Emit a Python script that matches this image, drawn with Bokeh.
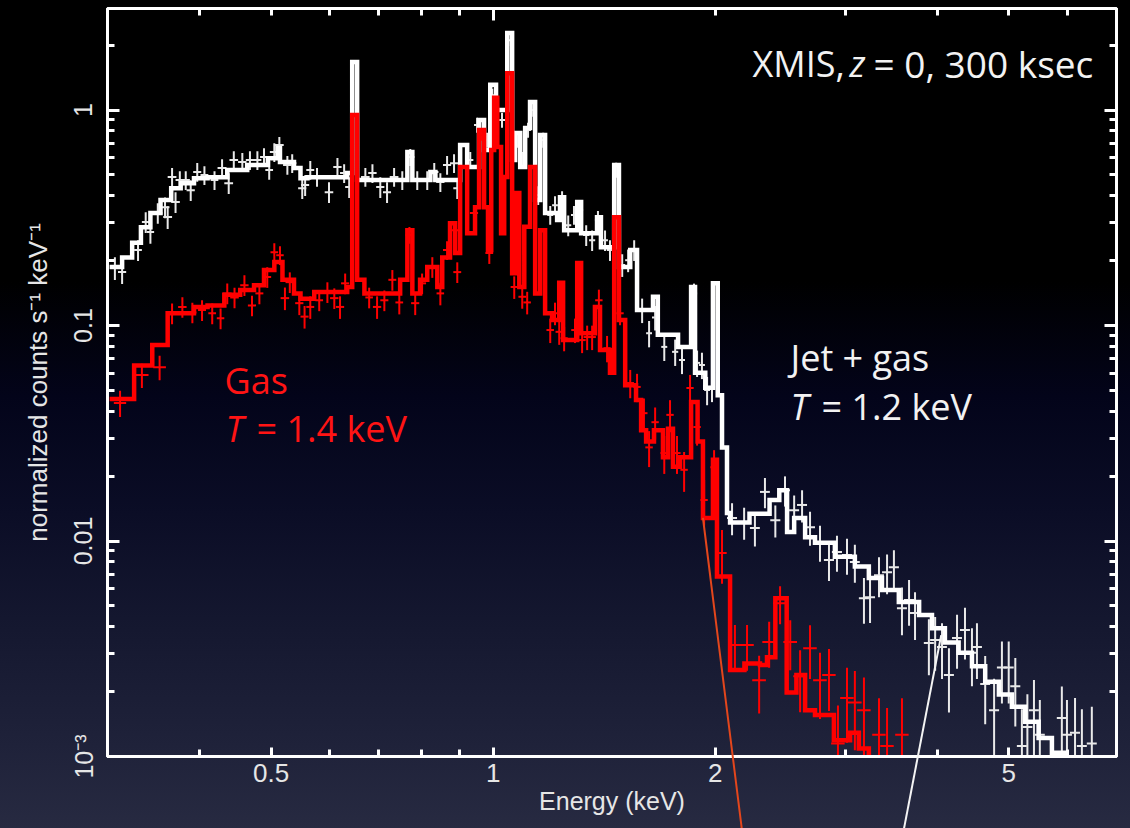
from bokeh.plotting import figure
from bokeh.models import (Range1d, LogAxis, FixedTicker, CustomJSTickFormatter,
                          Label, ColumnDataSource)
from bokeh.embed import file_html
from bokeh.resources import INLINE

# ---------------------------------------------------------------------------
# Folded spectral models (left bin edges in keV, last entry closes the last bin)
# rates in normalized counts s^-1 keV^-1
# ---------------------------------------------------------------------------
jet_gas_edges = [0.302, 0.314, 0.324, 0.333, 0.343, 0.354, 0.366, 0.377, 0.393, 0.410,
                 0.436, 0.464, 0.495, 0.510, 0.514, 0.537, 0.548, 0.560, 0.634, 0.644,
                 0.654, 0.765, 0.777, 0.822, 0.835, 0.902, 0.922, 0.957, 0.972, 0.991,
                 1.009, 1.045, 1.061, 1.071, 1.088, 1.105, 1.122, 1.140, 1.158, 1.176,
                 1.221, 1.232, 1.248, 1.300, 1.316, 1.383, 1.400, 1.459, 1.481, 1.534,
                 1.567, 1.647, 1.672, 1.781, 1.855, 1.878, 1.939, 1.986, 2.016, 2.043,
                 2.075, 2.095, 2.226, 2.370, 2.443, 2.503, 2.559, 2.648, 2.731, 2.906,
                 3.093, 3.231, 3.366, 3.548, 3.780, 3.935, 4.097, 4.276, 4.458, 4.646,
                 4.849, 5.050, 5.263, 5.489, 5.722, 5.960, 6.220, 7.000]
jet_gas_model = [0.187, 0.207, 0.242, 0.286, 0.333, 0.382, 0.434, 0.457, 0.483, 0.488,
                 0.527, 0.556, 0.598, 0.666, 0.574, 0.538, 0.483, 0.488, 0.510, 1.67,
                 0.473, 0.638, 0.473, 0.516, 0.473, 0.688, 0.544, 0.899, 0.652, 1.31,
                 1.00, 2.28, 0.586, 0.782, 0.544, 0.825, 1.09, 0.382, 0.766, 0.333,
                 0.309, 0.394, 0.277, 0.374, 0.268, 0.318, 0.231, 0.556, 0.187, 0.224,
                 0.118, 0.136, 0.0907, 0.0796, 0.151, 0.0604, 0.0515, 0.157, 0.0475, 0.0272,
                 0.0135, 0.0122, 0.0134, 0.0155, 0.0172, 0.0110, 0.0128, 0.0104, 0.00982, 0.00845,
                 0.00762, 0.00673, 0.00592, 0.00521, 0.00454, 0.00394, 0.00338, 0.00303, 0.00262, 0.00222,
                 0.00194, 0.00170, 0.00145, 0.00122, 0.00104, 0.00090, 0.00078]

gas_edges = [0.302, 0.326, 0.345, 0.362, 0.393, 0.410, 0.432, 0.454, 0.474, 0.489,
             0.505, 0.518, 0.537, 0.548, 0.572, 0.634, 0.644, 0.654, 0.669, 0.748,
             0.765, 0.777, 0.796, 0.814, 0.840, 0.853, 0.874, 0.888, 0.902, 0.922,
             0.945, 0.957, 0.972, 0.984, 0.994, 1.003, 1.013, 1.025, 1.035, 1.045,
             1.061, 1.071, 1.085, 1.102, 1.122, 1.140, 1.158, 1.176, 1.202, 1.229,
             1.244, 1.300, 1.316, 1.374, 1.396, 1.440, 1.459, 1.481, 1.510, 1.562,
             1.587, 1.612, 1.652, 1.699, 1.726, 1.753, 1.792, 1.855, 1.893, 1.925,
             1.986, 2.011, 2.095, 2.191, 2.300, 2.351, 2.413, 2.500, 2.577, 2.648,
             2.731, 2.897, 3.047, 3.132, 3.231, 3.470, 4.000]
gas_model = [0.0456, 0.0653, 0.0812, 0.114, 0.122, 0.124, 0.139, 0.146, 0.154, 0.181,
             0.197, 0.163, 0.141, 0.133, 0.143, 0.151, 0.948, 0.163, 0.141, 0.163,
             0.277, 0.141, 0.163, 0.187, 0.151, 0.207, 0.298, 0.217, 0.544, 0.268,
             0.354, 0.808, 0.354, 0.224, 0.652, 1.14, 0.673, 0.268, 0.489, 1.48,
             0.175, 0.412, 0.151, 0.287, 0.544, 0.141, 0.277, 0.114, 0.106, 0.158,
             0.0856, 0.195, 0.0921, 0.122, 0.0770, 0.0604, 0.318, 0.106, 0.0528, 0.0451,
             0.0327, 0.0290, 0.0327, 0.0245, 0.0332, 0.0221, 0.0245, 0.0442, 0.0290, 0.0128,
             0.0238, 0.00685, 0.00252, 0.00270, 0.00266, 0.00289, 0.00542, 0.00198, 0.00239, 0.00164,
             0.00156, 0.00119, 0.00129, 0.00109, 0.00092, 0.00075]

# ---------------------------------------------------------------------------
# Simulated 300 ksec data: bin centre, half width (keV), rate, fractional error
# ---------------------------------------------------------------------------
jet_gas_E = [0.307, 0.314, 0.330, 0.338, 0.343, 0.351, 0.359, 0.362, 0.367, 0.371,
             0.376, 0.383, 0.389, 0.397, 0.406, 0.419, 0.429, 0.438, 0.445, 0.457,
             0.468, 0.479, 0.489, 0.497, 0.505, 0.513, 0.526, 0.534, 0.551, 0.556,
             0.565, 0.577, 0.599, 0.615, 0.628, 0.638, 0.671, 0.686, 0.703, 0.718,
             0.734, 0.753, 0.772, 0.789, 0.814, 0.832, 0.848, 0.866, 0.885, 0.894,
             0.931, 0.951, 0.981, 0.997, 1.028, 1.048, 1.078, 1.095, 1.115, 1.133,
             1.151, 1.169, 1.195, 1.213, 1.240, 1.264, 1.287, 1.312, 1.337, 1.362,
             1.387, 1.418, 1.440, 1.468, 1.496, 1.524, 1.553, 1.592, 1.627, 1.658,
             1.706, 1.765, 1.803, 1.872, 1.890, 1.919, 1.950, 1.980,
             2.108, 2.189, 2.264, 2.336, 2.413, 2.487, 2.559, 2.623, 2.689, 2.774,
             2.853, 2.925, 3.018, 3.093, 3.182, 3.243, 3.335, 3.420, 3.494, 3.583,
             3.663, 3.732, 3.897, 3.974, 4.060, 4.149, 4.255, 4.362, 4.458, 4.528,
             4.646, 4.777, 4.895, 5.000, 5.104, 5.210, 5.300, 5.410, 5.510, 5.902,
             5.997, 6.150, 6.283, 6.481]
jet_gas_dE = [0.004, 0.004, 0.004, 0.004, 0.004, 0.005, 0.005, 0.005, 0.005, 0.005,
              0.005, 0.005, 0.005, 0.005, 0.005, 0.005, 0.006, 0.006, 0.006, 0.006,
              0.006, 0.006, 0.006, 0.006, 0.007, 0.007, 0.007, 0.007, 0.007, 0.007,
              0.007, 0.008, 0.008, 0.008, 0.008, 0.008, 0.009, 0.009, 0.009, 0.009,
              0.010, 0.010, 0.010, 0.010, 0.011, 0.011, 0.011, 0.011, 0.011, 0.011,
              0.009, 0.009, 0.009, 0.009, 0.010, 0.010, 0.010, 0.010, 0.010, 0.011,
              0.011, 0.011, 0.011, 0.011, 0.012, 0.012, 0.012, 0.012, 0.013, 0.013,
              0.013, 0.013, 0.014, 0.014, 0.014, 0.014, 0.015, 0.015, 0.015, 0.016,
              0.016, 0.017, 0.017, 0.018, 0.018, 0.018, 0.018, 0.019,
              0.033, 0.034, 0.035, 0.036, 0.038, 0.039, 0.040, 0.041, 0.042, 0.043,
              0.045, 0.046, 0.047, 0.048, 0.050, 0.051, 0.052, 0.053, 0.055, 0.056,
              0.057, 0.058, 0.061, 0.062, 0.063, 0.065, 0.066, 0.068, 0.070, 0.071,
              0.072, 0.075, 0.076, 0.078, 0.080, 0.081, 0.083, 0.084, 0.086, 0.092,
              0.094, 0.096, 0.098, 0.101]
jet_gas_rate = [0.185, 0.177, 0.224, 0.302, 0.272, 0.333, 0.354, 0.319, 0.489, 0.374,
                0.473, 0.473, 0.425, 0.516, 0.499, 0.473, 0.538, 0.458, 0.586, 0.574,
                0.586, 0.586, 0.605, 0.527, 0.638, 0.688, 0.556, 0.567, 0.434, 0.449,
                0.527, 0.489, 0.416, 0.544, 0.510, 0.439, 0.489, 0.510, 0.439, 0.416,
                0.489, 0.473, 0.605, 0.473, 0.473, 0.516, 0.463, 0.556, 0.567, 0.434,
                0.586, 0.852, 0.726, 1.17, 0.899, 2.11, 0.726, 0.586, 0.808, 1.00,
                0.403, 0.726, 0.326, 0.362, 0.382, 0.292, 0.326, 0.344, 0.263, 0.249,
                0.309, 0.249, 0.224, 0.527, 0.191, 0.201, 0.224, 0.118, 0.0921, 0.109,
                0.0796, 0.0755, 0.0692, 0.141, 0.0671, 0.0656, 0.0502, 0.0519,
                0.0128, 0.0122, 0.0115, 0.0169, 0.0125, 0.0172, 0.0139, 0.0147, 0.0116, 0.00990,
                0.00816, 0.00889, 0.00861, 0.00800, 0.00543, 0.00548, 0.00694, 0.00716, 0.00755, 0.00487,
                0.00532, 0.00463, 0.00336, 0.00347, 0.00322, 0.00239, 0.00355, 0.00386, 0.00303, 0.00322,
                0.00217, 0.00164, 0.00259, 0.00259, 0.00212, 0.00112, 0.00137, 0.00164, 0.00126, 0.00151,
                0.00126, 0.00129, 0.00112, 0.00115]
jet_gas_relerr = [0.12, 0.12, 0.11, 0.11, 0.12, 0.11, 0.11, 0.12, 0.10, 0.11,
                  0.10, 0.10, 0.11, 0.10, 0.10, 0.10, 0.10, 0.11, 0.10, 0.10,
                  0.10, 0.10, 0.10, 0.10, 0.10, 0.09, 0.10, 0.10, 0.11, 0.11,
                  0.10, 0.10, 0.11, 0.10, 0.10, 0.11, 0.10, 0.10, 0.11, 0.11,
                  0.10, 0.10, 0.09, 0.10, 0.10, 0.10, 0.10, 0.10, 0.10, 0.11,
                  0.09, 0.08, 0.08, 0.07, 0.08, 0.06, 0.08, 0.09, 0.08, 0.07,
                  0.10, 0.08, 0.10, 0.10, 0.10, 0.11, 0.10, 0.10, 0.11, 0.11,
                  0.10, 0.11, 0.11, 0.08, 0.12, 0.12, 0.11, 0.13, 0.14, 0.13,
                  0.14, 0.14, 0.14, 0.11, 0.14, 0.14, 0.15, 0.15,
                  0.17, 0.17, 0.18, 0.16, 0.17, 0.16, 0.17, 0.17, 0.18, 0.19,
                  0.20, 0.19, 0.19, 0.20, 0.24, 0.24, 0.21, 0.21, 0.20, 0.25,
                  0.24, 0.25, 0.29, 0.28, 0.29, 0.33, 0.28, 0.27, 0.30, 0.29,
                  0.35, 0.40, 0.32, 0.32, 0.35, 0.48, 0.42, 0.38, 0.45, 0.40,
                  0.45, 0.45, 0.48, 0.48]

gas_E = [0.312, 0.334, 0.353, 0.367, 0.379, 0.391, 0.403, 0.416, 0.427, 0.436,
         0.446, 0.460, 0.471, 0.482, 0.494, 0.505, 0.514, 0.522, 0.530, 0.546,
         0.555, 0.565, 0.581, 0.596, 0.609, 0.620, 0.630, 0.679, 0.696, 0.712,
         0.730, 0.746, 0.770, 0.784, 0.801, 0.827, 0.848, 0.866, 0.885, 0.894,
         0.942, 0.966, 0.988, 1.068, 1.095, 1.112, 1.195, 1.213, 1.229, 1.248,
         1.291, 1.320, 1.341, 1.362, 1.391, 1.427, 1.486, 1.534, 1.567, 1.601,
         1.627, 1.658, 1.706, 1.737, 1.775, 1.815, 1.849, 1.890, 1.932, 1.993,
         2.043, 2.127, 2.209, 2.294, 2.367, 2.449, 2.528, 2.607, 2.689, 2.774,
         2.853, 2.934, 3.018, 3.093, 3.182, 3.335, 3.420, 3.583]
gas_dE = [0.006, 0.007, 0.007, 0.005, 0.005, 0.005, 0.005, 0.005, 0.005, 0.006,
          0.006, 0.006, 0.006, 0.006, 0.006, 0.006, 0.006, 0.007, 0.007, 0.007,
          0.007, 0.007, 0.007, 0.007, 0.008, 0.008, 0.008, 0.008, 0.009, 0.009,
          0.009, 0.009, 0.009, 0.010, 0.010, 0.010, 0.010, 0.011, 0.011, 0.011,
          0.012, 0.012, 0.012, 0.012, 0.013, 0.013, 0.014, 0.014, 0.014, 0.014,
          0.015, 0.015, 0.015, 0.016, 0.016, 0.016, 0.017, 0.018, 0.018, 0.018,
          0.019, 0.019, 0.020, 0.020, 0.020, 0.021, 0.021, 0.022, 0.022, 0.023,
          0.030, 0.045, 0.047, 0.049, 0.050, 0.052, 0.054, 0.055, 0.057, 0.059,
          0.060, 0.062, 0.064, 0.066, 0.067, 0.070, 0.072, 0.075]
gas_rate = [0.0437, 0.0589, 0.0641, 0.114, 0.122, 0.115, 0.118, 0.114, 0.108, 0.141,
            0.135, 0.154, 0.124, 0.141, 0.168, 0.219, 0.212, 0.134, 0.159, 0.127,
            0.110, 0.122, 0.131, 0.143, 0.134, 0.122, 0.157, 0.135, 0.122, 0.131,
            0.163, 0.128, 0.263, 0.127, 0.157, 0.187, 0.141, 0.224, 0.277, 0.177,
            0.333, 0.766, 0.217, 0.151, 0.136, 0.128, 0.0953, 0.114, 0.0935, 0.0873,
            0.0953, 0.0856, 0.0884, 0.0884, 0.131, 0.0785, 0.114, 0.0541, 0.0519, 0.0392,
            0.0272, 0.0356, 0.0256, 0.0385, 0.0256, 0.0214, 0.0513, 0.0338, 0.0155, 0.0220,
            0.00880, 0.00329, 0.00329, 0.00226, 0.00340, 0.00514, 0.00340, 0.00236, 0.00318, 0.00226,
            0.00239, 0.00115, 0.00187, 0.00178, 0.00164, 0.00126, 0.00112, 0.00126]
gas_relerr = [0.14, 0.13, 0.13, 0.11, 0.11, 0.11, 0.11, 0.11, 0.11, 0.11,
              0.11, 0.11, 0.11, 0.11, 0.11, 0.10, 0.10, 0.12, 0.11, 0.12,
              0.12, 0.12, 0.11, 0.11, 0.11, 0.12, 0.11, 0.11, 0.12, 0.11,
              0.11, 0.12, 0.09, 0.12, 0.11, 0.11, 0.12, 0.10, 0.09, 0.11,
              0.09, 0.06, 0.11, 0.12, 0.12, 0.12, 0.13, 0.12, 0.13, 0.13,
              0.13, 0.13, 0.13, 0.13, 0.12, 0.14, 0.12, 0.15, 0.15, 0.17,
              0.19, 0.17, 0.20, 0.17, 0.20, 0.21, 0.15, 0.18, 0.24, 0.20,
              0.28, 0.24, 0.24, 0.30, 0.24, 0.20, 0.26, 0.32, 0.28, 0.34,
              0.32, 0.50, 0.38, 0.40, 0.42, 0.48, 0.50, 0.48]

# Pointer lines leaving the frame (energy keV, rate)
gas_pointer_E = [1.925, 2.175]
gas_pointer_rate = [0.0128, 0.00045]
jet_pointer_E = [4.05, 3.60]
jet_pointer_rate = [0.00366, 0.00045]

# Axis ticks and labels
x_major = [0.5, 1, 2, 5]
x_major_labels = ["0.5", "1", "2", "5"]
x_minor = [0.3, 0.4, 0.6, 0.7, 0.8, 0.9, 3, 4, 6, 7]
x_decades = [1]
x_decade_minor = [0.3, 0.4, 0.5, 0.6, 0.7, 0.8, 0.9, 2, 3, 4, 5, 6, 7]
y_major = [0.001, 0.01, 0.1, 1]
y_major_labels = ["10\u207b\u00b3", "0.01", "0.1", "1"]
y_minor = [0.002, 0.003, 0.004, 0.005, 0.006, 0.007, 0.008, 0.009,
           0.02, 0.03, 0.04, 0.05, 0.06, 0.07, 0.08, 0.09,
           0.2, 0.3, 0.4, 0.5, 0.6, 0.7, 0.8, 0.9, 2]

WHITE = "#ffffff"
DATA_WHITE = "#e9e9e9"
RED = "#ff0000"
TEXT_RED = "#ff1414"
FRAME_LEFT, FRAME_BOTTOM = 107, 756

p = figure(width=1130, height=828, x_axis_type="log", y_axis_type="log",
           x_range=Range1d(0.3, 7.0), y_range=Range1d(1e-3, 2.96),
           output_backend="svg", toolbar_location=None, title=None,
           min_border_left=FRAME_LEFT, min_border_right=14,
           min_border_top=8, min_border_bottom=72)
p.background_fill_color = None
p.border_fill_color = None
p.outline_line_color = WHITE
p.outline_line_width = 3
p.grid.visible = False
p.styles = {"background": "linear-gradient(180deg, #000000 0%, #000000 34%, #03041a 48%, "
                          "#0b0d26 62%, #151830 76%, #1f223a 90%, #272a41 100%)"}


def label_formatter(tick_values, tick_labels):
    return CustomJSTickFormatter(args=dict(tvals=tick_values, tlabs=tick_labels), code="""
        let best = 0;
        for (let i = 0; i < tvals.length; i++) {
            if (Math.abs(Math.log10(tvals[i] / tick)) < Math.abs(Math.log10(tvals[best] / tick))) best = i;
        }
        return tlabs[best];
    """)


def style_axis(ax, major_len, minor_len):
    ax.axis_line_color = WHITE
    ax.axis_line_width = 3
    ax.major_tick_line_color = WHITE
    ax.major_tick_line_width = 3
    ax.minor_tick_line_color = WHITE
    ax.minor_tick_line_width = 3
    ax.major_tick_in = major_len
    ax.major_tick_out = 0
    ax.minor_tick_in = minor_len
    ax.minor_tick_out = 0


xa = p.xaxis[0]
xa.ticker = FixedTicker(ticks=x_major, minor_ticks=x_minor)
xa.formatter = label_formatter(x_major, x_major_labels)
style_axis(xa, 9, 7)
xa.major_label_text_font = "Liberation Sans"
xa.major_label_text_font_size = "26px"
xa.major_label_text_color = "#e6e6e6"
xa.major_label_standoff = 7
xa.axis_label = "Energy (keV)"
xa.axis_label_text_font = "Liberation Sans"
xa.axis_label_text_font_size = "25px"
xa.axis_label_text_font_style = "normal"
xa.axis_label_text_color = "#e6e6e6"
xa.axis_label_standoff = 2

ya = p.yaxis[0]
ya.ticker = FixedTicker(ticks=y_major, minor_ticks=y_minor)
ya.formatter = label_formatter(y_major, y_major_labels)
style_axis(ya, 12, 7)
ya.major_label_orientation = "vertical"
ya.major_label_text_font = "Liberation Sans"
ya.major_label_text_font_size = "25px"
ya.major_label_text_color = "#e6e6e6"
ya.major_label_standoff = 10
ya.axis_label = "normalized counts s\u207b\u00b9 keV\u207b\u00b9"
ya.axis_label_text_font = "Liberation Sans"
ya.axis_label_text_font_size = "26px"
ya.axis_label_text_font_style = "normal"
ya.axis_label_text_color = "#e6e6e6"
ya.axis_label_standoff = 14

# tick marks on the top and right edges of the frame
empty = CustomJSTickFormatter(code="return ''")
top = LogAxis(ticker=FixedTicker(ticks=x_decades, minor_ticks=x_decade_minor), formatter=empty,
              major_label_text_font_size="0px", major_label_standoff=0)
style_axis(top, 12, 7)
p.add_layout(top, "above")
right = LogAxis(ticker=FixedTicker(ticks=y_major, minor_ticks=y_minor), formatter=empty,
                major_label_text_font_size="0px", major_label_standoff=0)
style_axis(right, 12, 7)
p.add_layout(right, "right")


def step_xy(edges, model):
    return edges, model + [model[-1]]


def crosses(E, dE, rate, rel, color):
    src = ColumnDataSource(dict(
        x0=[e - d for e, d in zip(E, dE)], x1=[e + d for e, d in zip(E, dE)],
        x=E, y=rate,
        ylo=[r * (1 - f) for r, f in zip(rate, rel)],
        yhi=[r * (1 + f) for r, f in zip(rate, rel)]))
    p.segment(x0="x0", y0="y", x1="x1", y1="y", source=src, line_color=color, line_width=2)
    p.segment(x0="x", y0="ylo", x1="x", y1="yhi", source=src, line_color=color, line_width=2)


# jet + gas: data then model
crosses(jet_gas_E, jet_gas_dE, jet_gas_rate, jet_gas_relerr, DATA_WHITE)
xs, ys = step_xy(jet_gas_edges, jet_gas_model)
p.step(xs, ys, mode="after", line_color=WHITE, line_width=4.5, line_join="miter")

# gas only: data then model
crosses(gas_E, gas_dE, gas_rate, gas_relerr, RED)
xs, ys = step_xy(gas_edges, gas_model)
p.step(xs, ys, mode="after", line_color=RED, line_width=4.5, line_join="miter")

# pointer lines running off the bottom of the panel (overlay level, not frame-clipped)
p.line(gas_pointer_E, gas_pointer_rate, line_color="#e4461c", line_width=2, level="overlay")
p.line(jet_pointer_E, jet_pointer_rate, line_color="#f4f4f4", line_width=2, level="overlay")


def add_text(txt, cx, cy, color, italic=False, size="36px"):
    p.add_layout(Label(x=cx - FRAME_LEFT, y=FRAME_BOTTOM - cy, x_units="screen", y_units="screen",
                       text=txt, text_color=color, text_font="Open Sans", text_font_size=size,
                       text_font_style="italic" if italic else "normal",
                       text_baseline="alphabetic", text_align="left"))


add_text("XMIS,", 752, 63, "#f2f2f2")
add_text("z", 849, 63, "#f2f2f2", italic=True)
add_text("= 0, 300 ksec", 873, 63, "#f2f2f2", size="37px")

add_text("Jet + gas", 790, 357, "#f2f2f2")
add_text("T", 790, 406, "#f2f2f2", italic=True)
add_text("= 1.2 keV", 821, 406, "#f2f2f2")

add_text("Gas", 224, 380, TEXT_RED)
add_text("T", 225, 428, TEXT_RED, italic=True)
add_text("= 1.4 keV", 256, 428, TEXT_RED)

open("out.html", "w").write(file_html(p, INLINE))
